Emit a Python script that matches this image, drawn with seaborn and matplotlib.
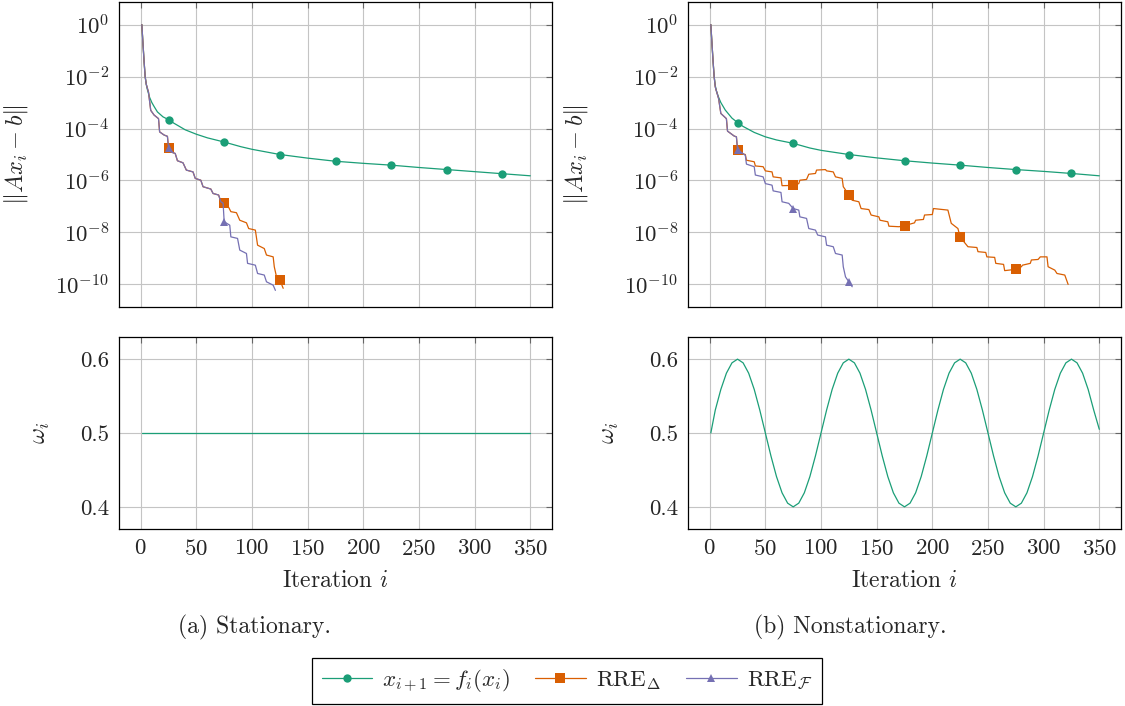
import numpy as np
import pandas as pd
import matplotlib
matplotlib.use("Agg")
import matplotlib.pyplot as plt
import seaborn as sns

# ===== Data (residuals stored as log10 exponents) =====
# Stationary case
stat_fp_iter = [1, 2, 3, 4, 5, 6, 8, 10, 12, 15, 20, 25, 30, 40, 50, 60, 75, 90, 100,
                125, 150, 175, 200, 225, 250, 275, 300, 325, 350]
stat_fp_log = [0, -0.7, -1.4, -2.0, -2.3, -2.5, -2.8, -3.0, -3.15, -3.36, -3.55, -3.66,
               -3.8, -4.05, -4.22, -4.36, -4.52, -4.7, -4.8, -5.0, -5.14, -5.26, -5.34,
               -5.41, -5.5, -5.58, -5.66, -5.74, -5.82]

stat_rre_d_iter = [1, 2, 3, 4, 5, 7, 9, 12, 16, 17, 21, 24, 25, 27, 31, 33, 38, 41, 47, 49, 54,
                   56, 63, 65, 70, 72, 75, 78, 81, 86, 89, 95, 97, 103, 105, 111, 113, 119,
                   120, 122, 125, 128]
stat_rre_d_log = [0, -0.7, -1.4, -2.0, -2.3, -2.6, -3.3, -3.48, -3.62, -4.13, -4.25, -4.3, -4.74,
                  -4.9, -4.96, -5.24, -5.32, -5.6, -5.67, -5.92, -5.99, -6.24, -6.33, -6.5,
                  -6.56, -6.82, -6.88, -6.95, -7.2, -7.24, -7.53, -7.63, -7.85, -7.91, -8.49,
                  -8.62, -8.87, -8.94, -9.32, -9.71, -9.83, -10.15]

stat_rre_f_iter = [1, 2, 3, 4, 5, 7, 9, 12, 16, 17, 21, 24, 25, 27, 31, 33, 38, 41, 47, 49, 54,
                   56, 63, 65, 70, 72, 74, 75, 80, 81, 87, 89, 95, 96, 103, 105, 111, 113,
                   119, 121]
stat_rre_f_log = [0, -0.7, -1.4, -2.0, -2.3, -2.6, -3.3, -3.48, -3.62, -4.13, -4.25, -4.3, -4.74,
                  -4.9, -4.96, -5.24, -5.32, -5.6, -5.67, -5.92, -5.99, -6.24, -6.33, -6.5,
                  -6.56, -6.82, -6.87, -7.59, -7.72, -8.17, -8.23, -8.68, -8.81, -9.19, -9.26,
                  -9.58, -9.64, -9.9, -10.03, -10.23]

stat_omega_iter = [1, 350]
stat_omega = [0.5, 0.5]

# Nonstationary case
nons_fp_iter = [1, 2, 3, 4, 5, 6, 8, 10, 14, 20, 25, 30, 40, 50, 60, 75, 90, 100, 125, 150,
                175, 200, 225, 250, 275, 300, 325, 350]
nons_fp_log = [0, -0.7, -1.4, -2.0, -2.35, -2.55, -2.8, -3.0, -3.29, -3.6, -3.77, -3.92,
               -4.15, -4.32, -4.44, -4.57, -4.75, -4.84, -5.0, -5.13, -5.24, -5.33, -5.41,
               -5.5, -5.58, -5.65, -5.73, -5.82]

nons_rre_d_iter = [1, 2, 3, 4, 5, 8, 10, 15, 16, 22, 24, 25, 26, 32, 33, 40, 41, 48, 50, 56, 57,
                   64, 65, 75, 80, 81, 87, 89, 95, 96, 104, 105, 111, 113, 119, 120, 125,
                   128, 134, 136, 143, 145, 152, 153, 160, 161, 170, 175, 184, 185, 192, 193,
                   200, 201, 214, 217, 223, 225, 232, 240, 241, 248, 249, 256, 257, 264, 265,
                   275, 280, 281, 288, 289, 295, 297, 303, 304, 310, 312, 319, 322]
nons_rre_d_log = [0, -0.7, -1.4, -2.0, -2.4, -2.85, -3.42, -3.62, -4.1, -4.29, -4.32, -4.81, -4.94,
                  -5.0, -5.22, -5.28, -5.44, -5.47, -5.63, -5.67, -5.86, -5.9, -6.2, -6.19,
                  -6.12, -5.99, -5.96, -5.76, -5.73, -5.6, -5.58, -5.63, -5.67, -5.86, -5.92,
                  -6.24, -6.55, -6.76, -6.82, -7.08, -7.12, -7.33, -7.4, -7.53, -7.59, -7.76,
                  -7.78, -7.74, -7.63, -7.53, -7.5, -7.33, -7.31, -7.08, -7.14, -7.65, -7.85,
                  -8.18, -8.55, -8.58, -8.74, -8.77, -8.94, -8.96, -9.19, -9.23, -9.47, -9.42,
                  -9.32, -9.26, -9.19, -9.06, -9.04, -8.94, -8.94, -9.32, -9.45, -9.58, -9.64,
                  -10.0]

nons_rre_f_iter = [1, 2, 3, 4, 5, 8, 10, 15, 16, 22, 24, 25, 32, 33, 40, 41, 48, 50, 56, 57, 64,
                   65, 71, 75, 80, 81, 87, 89, 95, 97, 104, 105, 111, 113, 119, 120, 122, 125,
                   128]
nons_rre_f_log = [0, -0.7, -1.4, -2.0, -2.4, -2.85, -3.42, -3.62, -4.1, -4.29, -4.32, -4.81, -5.03,
                  -5.37, -5.47, -5.79, -5.86, -6.12, -6.18, -6.4, -6.46, -6.82, -6.88, -7.08,
                  -7.14, -7.4, -7.46, -7.85, -7.91, -8.1, -8.17, -8.49, -8.55, -8.81, -8.87,
                  -9.32, -9.71, -9.9, -10.09]

nons_omega_iter = [1] + list(range(5, 351, 5))
nons_omega = [0.500, 0.531, 0.559, 0.581, 0.595, 0.600, 0.595, 0.581, 0.559, 0.531,
              0.500, 0.469, 0.441, 0.419, 0.405, 0.400, 0.405, 0.419, 0.441, 0.469,
              0.500, 0.531, 0.559, 0.581, 0.595, 0.600, 0.595, 0.581, 0.559, 0.531,
              0.500, 0.469, 0.441, 0.419, 0.405, 0.400, 0.405, 0.419, 0.441, 0.469,
              0.500, 0.531, 0.559, 0.581, 0.595, 0.600, 0.595, 0.581, 0.559, 0.531,
              0.500, 0.469, 0.441, 0.419, 0.405, 0.400, 0.405, 0.419, 0.441, 0.469,
              0.500, 0.531, 0.559, 0.581, 0.595, 0.600, 0.595, 0.581, 0.559, 0.531,
              0.505]

marker_iters = [25, 75, 125, 175, 225, 275, 325]
x_ticks = [0, 50, 100, 150, 200, 250, 300, 350]
res_ticks = [1e0, 1e-2, 1e-4, 1e-6, 1e-8, 1e-10]
res_tick_labels = [r"$10^{0}$", r"$10^{-2}$", r"$10^{-4}$", r"$10^{-6}$", r"$10^{-8}$", r"$10^{-10}$"]
omega_ticks = [0.4, 0.5, 0.6]
omega_tick_labels = ["0.4", "0.5", "0.6"]

labels = [r"$x_{i+1} = f_i(x_i)$", r"$\mathrm{RRE}_{\Delta}$", r"$\mathrm{RRE}_{\mathcal{F}}$"]
colors = ["#1b9e77", "#d95f02", "#7570b3"]
markers = ["o", "s", "^"]
msizes = [6, 6.5, 6]

FS = 16.5

# ===== Style =====
sns.set_style("white")
plt.rcParams["font.family"] = "serif"
plt.rcParams["font.serif"] = ["cmr10", "DejaVu Serif"]
plt.rcParams["mathtext.fontset"] = "cm"
plt.rcParams["axes.formatter.use_mathtext"] = True
plt.rcParams["font.size"] = FS

W, H = 1125, 706
fig = plt.figure(figsize=(W / 100, H / 100), dpi=100)


def px_axes(x0, y0, x1, y1):
    return fig.add_axes([x0 / W, 1 - y1 / H, (x1 - x0) / W, (y1 - y0) / H])


def style_axes(ax):
    ax.set_xlim(-19.5, 369.5)
    ax.set_xticks(x_ticks)
    ax.grid(True, color="#c4c4c4", lw=0.8)
    ax.set_axisbelow(True)
    for s in ax.spines.values():
        s.set_color("black")
        s.set_linewidth(0.9)
    ax.tick_params(direction="in", top=True, right=True, length=4.5, width=0.8,
                   color="#666666", labelsize=FS, pad=7)


def draw_series(ax, it, logv, k):
    df = pd.DataFrame({"iter": it, "res": 10.0 ** np.array(logv)})
    marks = [j for j, v in enumerate(it) if v in marker_iters]
    sns.lineplot(data=df, x="iter", y="res", ax=ax, color=colors[k], lw=0.9,
                 marker=markers[k], markersize=msizes[k], markeredgewidth=0,
                 markevery=marks, sort=False, estimator=None, label=labels[k])


panels = [
    (119, 552, [(stat_fp_iter, stat_fp_log), (stat_rre_d_iter, stat_rre_d_log),
                (stat_rre_f_iter, stat_rre_f_log)], (stat_omega_iter, stat_omega), 30, 52),
    (688, 1121, [(nons_fp_iter, nons_fp_log), (nons_rre_d_iter, nons_rre_d_log),
                 (nons_rre_f_iter, nons_rre_f_log)], (nons_omega_iter, nons_omega), 590, 621),
]

handles = None
for x0, x1, series, omega, ylab_res, ylab_om in panels:
    ax_top = px_axes(x0, 2, x1, 307)
    for k, (it, lv) in enumerate(series):
        draw_series(ax_top, it, lv, k)
    ax_top.set_yscale("log")
    ax_top.set_ylim(10 ** -10.87, 10 ** 0.87)
    ax_top.set_yticks(res_ticks)
    ax_top.set_yticklabels(res_tick_labels)
    ax_top.yaxis.set_minor_locator(matplotlib.ticker.NullLocator())
    style_axes(ax_top)
    ax_top.tick_params(labelbottom=False)
    ax_top.set_xlabel("")
    ax_top.set_ylabel(r"$\Vert Ax_i - b\Vert$", fontsize=FS + 1)
    ax_top.yaxis.set_label_coords((ylab_res - x0) / (x1 - x0), 0.5)
    handles, _ = ax_top.get_legend_handles_labels()
    ax_top.get_legend().remove()

    ax_bot = px_axes(x0, 337, x1, 529)
    dfw = pd.DataFrame({"iter": omega[0], "omega": omega[1]})
    sns.lineplot(data=dfw, x="iter", y="omega", ax=ax_bot, color=colors[0], lw=0.9,
                 sort=False, estimator=None)
    ax_bot.set_ylim(0.37, 0.63)
    ax_bot.set_yticks(omega_ticks)
    ax_bot.set_yticklabels(omega_tick_labels)
    style_axes(ax_bot)
    ax_bot.set_xlabel(r"Iteration $i$", fontsize=FS + 0.5, labelpad=8)
    ax_bot.set_ylabel(r"$\omega_i$", fontsize=FS + 1)
    ax_bot.yaxis.set_label_coords((ylab_om - x0) / (x1 - x0), 0.5)

fig.text(254 / W, 1 - 627 / H, "(a) Stationary.", ha="center", va="center", fontsize=FS + 0.5)
fig.text(850 / W, 1 - 627 / H, "(b) Nonstationary.", ha="center", va="center", fontsize=FS + 0.5)

leg = fig.legend(handles, labels, loc="center", bbox_to_anchor=(567 / W, 1 - 681 / H),
                 ncol=3, frameon=True, fancybox=False, edgecolor="black", framealpha=1,
                 fontsize=FS, handlelength=2.2, columnspacing=1.1, handletextpad=0.45,
                 borderpad=0.4)
leg.get_frame().set_linewidth(0.9)

fig.savefig("out.png", dpi=100)
